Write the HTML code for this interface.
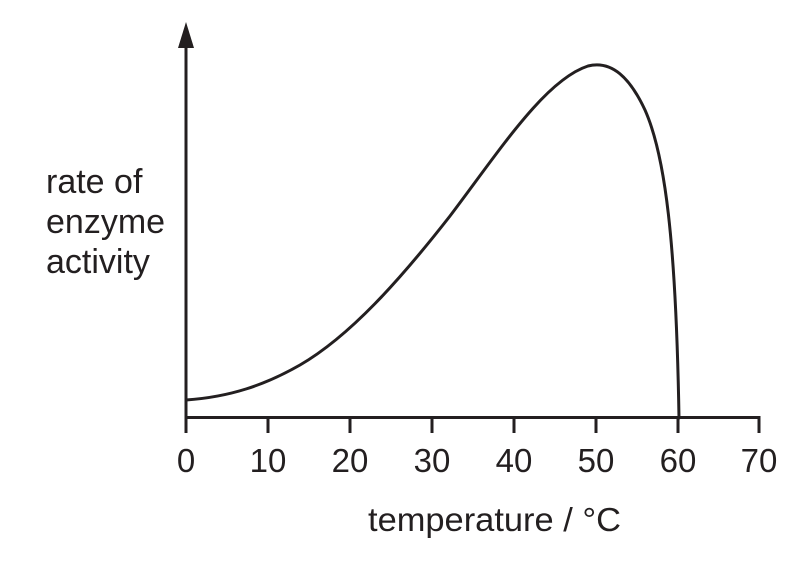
<!DOCTYPE html>
<html><head><meta charset="utf-8"><style>
html,body{margin:0;padding:0;background:#fff;}
svg{display:block;}
text{font-family:"Liberation Sans",Arial,sans-serif;fill:#231f20;}
</style></head><body>
<svg width="812" height="566" viewBox="0 0 812 566" xmlns="http://www.w3.org/2000/svg">
<g stroke="#231f20" stroke-width="3" fill="none">
<line x1="186" y1="46" x2="186" y2="433"/>
<line x1="186" y1="417.5" x2="759" y2="417.5"/>
<line x1="268" y1="417" x2="268" y2="433"/>
<line x1="350" y1="417" x2="350" y2="433"/>
<line x1="432" y1="417" x2="432" y2="433"/>
<line x1="514" y1="417" x2="514" y2="433"/>
<line x1="596" y1="417" x2="596" y2="433"/>
<line x1="678" y1="417" x2="678" y2="433"/>
<line x1="759" y1="416" x2="759" y2="433"/>
<path stroke-linejoin="round" stroke-linecap="round" d="M186,400 C230,397 265,385 300,365 C350,336 400,280 450,216 C500,150 545,80 588,66 C612,60 630,78 645,110 C665,155 676,240 679,418"/>
</g>
<polygon points="186,22 178,48 194,48" fill="#231f20"/>
<g font-size="33" text-anchor="middle">
<text x="186" y="472">0</text>
<text x="268" y="472">10</text>
<text x="350" y="472">20</text>
<text x="432" y="472">30</text>
<text x="514" y="472">40</text>
<text x="596" y="472">50</text>
<text x="678" y="472">60</text>
<text x="759" y="472">70</text>
</g>
<text x="368" y="531" font-size="33" textLength="253" lengthAdjust="spacingAndGlyphs">temperature / °C</text>
<g font-size="34">
<text x="46" y="193">rate of</text>
<text x="46" y="233">enzyme</text>
<text x="46" y="273">activity</text>
</g>
</svg>
</body></html>
